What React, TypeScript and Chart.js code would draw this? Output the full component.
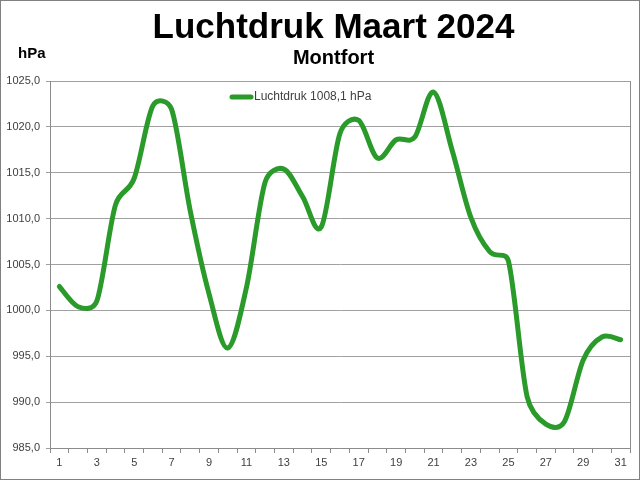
import React, { useEffect, useRef } from "react";
import { Chart, registerables } from "chart.js";

Chart.register(...registerables);

const days: string[] = Array.from({ length: 31 }, (_, i) => String(i + 1));
const pressure: number[] = [
  1002.6, 1000.4, 1001.0, 1011.5, 1014.4, 1022.3, 1021.9, 1010.8, 1001.8, 995.9,
  1002.5, 1014.0, 1015.4, 1012.4, 1009.1, 1019.3, 1020.7, 1016.6, 1018.6, 1018.9,
  1023.8, 1017.4, 1010.1, 1006.4, 1005.4, 990.6, 987.6, 987.9, 994.6, 997.1, 996.8,
];
const title = "Luchtdruk Maart 2024";
const subtitle = "Montfort";
const unitLabel = "hPa";
const legendLabel = "Luchtdruk 1008,1 hPa";
const yMin = 985;
const yMax = 1025;
const yStep = 5;

const FONT = "'Liberation Sans', Arial, sans-serif";
const GREEN = "#2a9a2a";
const TEXT = "#404040";

// Spreadsheet-style smoothed line: Catmull-Rom (1/6) with control arms
// limited to half of the segment length.
const smoothPlugin = {
  id: "smooth",
  beforeDatasetDraw(chart: any, args: any) {
    const meta = args.meta;
    const pts = meta.data as any[];
    const n = pts.length;
    const dist = (a: any, b: any) => Math.hypot(b.x - a.x, b.y - a.y);
    for (let i = 0; i < n; i++) {
      const p = pts[i];
      const prev = pts[Math.max(0, i - 1)];
      const next = pts[Math.min(n - 1, i + 1)];
      const tx = next.x - prev.x;
      const ty = next.y - prev.y;
      const len = Math.hypot(tx, ty) || 1;
      const dOut = dist(p, next);
      const dIn = dist(prev, p);
      const fOut = len / 6 < dOut / 2 ? 1 / 6 : dOut / 2 / len;
      const fIn = len / 6 < dIn / 2 ? 1 / 6 : dIn / 2 / len;
      p.cp1x = p.x - tx * fIn;
      p.cp1y = p.y - ty * fIn;
      p.cp2x = p.x + tx * fOut;
      p.cp2y = p.y + ty * fOut;
    }
    if (meta.dataset) meta.dataset._pointsUpdated = true;
  },
};

const decorPlugin = {
  id: "decor",
  afterDraw(chart: any) {
    const ctx = chart.ctx as CanvasRenderingContext2D;
    const ca = chart.chartArea;
    ctx.save();
    ctx.strokeStyle = "#8c8c8c";
    ctx.lineWidth = 1;
    ctx.beginPath();
    ctx.moveTo(Math.round(ca.right) + 0.5, ca.top);
    ctx.lineTo(Math.round(ca.right) + 0.5, ca.bottom);
    ctx.stroke();
    ctx.strokeStyle = "#808080";
    ctx.strokeRect(0.5, 0.5, chart.width - 1, chart.height - 1);
    ctx.fillStyle = "#000";
    ctx.textAlign = "center";
    ctx.textBaseline = "alphabetic";
    ctx.font = `bold 35px ${FONT}`;
    ctx.fillText(title, 333.5, 37.5);
    ctx.font = `bold 20px ${FONT}`;
    ctx.fillText(subtitle, 333.5, 64);
    ctx.textAlign = "left";
    ctx.font = `bold 15px ${FONT}`;
    ctx.fillText(unitLabel, 18, 58);
    ctx.strokeStyle = GREEN;
    ctx.lineWidth = 5;
    ctx.lineCap = "round";
    ctx.beginPath();
    ctx.moveTo(232, 97);
    ctx.lineTo(251, 97);
    ctx.stroke();
    ctx.fillStyle = TEXT;
    ctx.font = `12px ${FONT}`;
    ctx.textBaseline = "middle";
    ctx.fillText(legendLabel, 254, 97);
    ctx.restore();
  },
};

export default function App() {
  const ref = useRef<HTMLCanvasElement | null>(null);
  useEffect(() => {
    if (!ref.current) return;
    Chart.defaults.font.family = FONT;
    const chart = new Chart(ref.current, {
      type: "line",
      data: {
        labels: days,
        datasets: [
          {
            label: legendLabel,
            data: pressure,
            borderColor: GREEN,
            backgroundColor: GREEN,
            borderWidth: 5,
            pointRadius: 0,
            tension: 0.4,
            borderCapStyle: "round",
            borderJoinStyle: "round",
            fill: false,
          },
        ],
      },
      options: {
        responsive: false,
        animation: false,
        layout: { padding: { top: 81, right: 10, bottom: 0, left: 0 } },
        plugins: {
          legend: { display: false },
          title: { display: false },
          tooltip: { enabled: false },
        },
        scales: {
          x: {
            type: "category",
            offset: true,
            afterFit(scale: any) {
              scale.height = 32;
            },
            grid: {
              offset: true,
              drawOnChartArea: false,
              drawTicks: true,
              tickLength: 5,
              color: "#8c8c8c",
            },
            border: { display: true, color: "#8c8c8c" },
            ticks: {
              autoSkip: false,
              maxRotation: 0,
              padding: 3,
              color: TEXT,
              font: { size: 11, family: FONT },
              callback: (_v: any, i: number) => (i % 2 === 0 ? days[i] : ""),
            },
          },
          y: {
            min: yMin,
            max: yMax,
            afterFit(scale: any) {
              scale.width = 50;
            },
            grid: {
              color: "#a0a0a0",
              tickLength: 4,
              drawTicks: true,
            },
            border: { display: true, color: "#8c8c8c" },
            ticks: {
              stepSize: yStep,
              padding: 6,
              color: TEXT,
              font: { size: 11, family: FONT },
              callback: (v: any) => Number(v).toFixed(1).replace(".", ","),
            },
          },
        },
      },
      plugins: [smoothPlugin, decorPlugin],
    } as any);
    return () => chart.destroy();
  }, []);
  return (
    <div style={{ position: "absolute", left: 0, top: 0, width: 640, height: 480, background: "#fff" }}>
      <canvas ref={ref} width={640} height={480} style={{ display: "block" }} />
    </div>
  );
}
